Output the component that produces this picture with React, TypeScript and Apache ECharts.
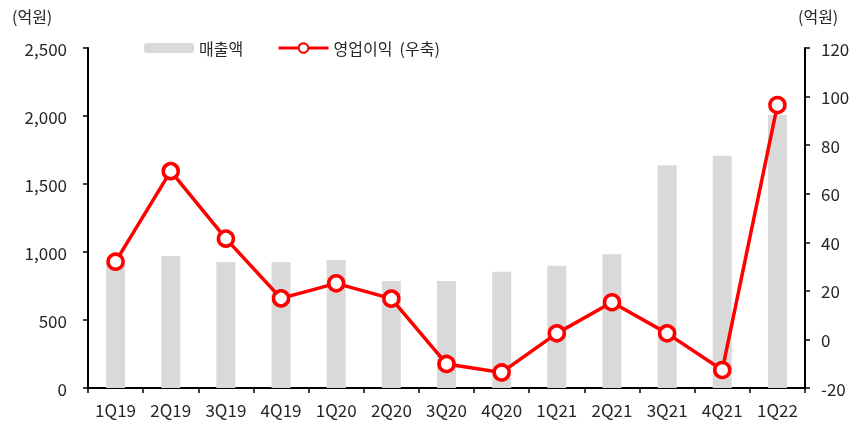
import React, { useEffect, useRef } from "react";
import * as echarts from "echarts";

const categories = ["1Q19", "2Q19", "3Q19", "4Q19", "1Q20", "2Q20", "3Q20", "4Q20", "1Q21", "2Q21", "3Q21", "4Q21", "1Q22"];
const revenue = [941, 971, 926, 926, 941, 787, 787, 855, 899, 983, 1637, 1708, 2007];
const operatingProfit = [32.0, 69.3, 41.5, 16.9, 23.1, 16.8, -10.1, -13.6, 2.5, 15.3, 2.5, -12.6, 96.5];
const revenueName = "매출액";
const profitName = "영업이익  (우축)";
const unitLabel = "(억원)";

const FONT = "'Noto Sans CJK KR', 'Noto Sans', sans-serif";
const TXT = "#262626";

export default function App() {
  const ref = useRef<HTMLDivElement>(null);
  useEffect(() => {
    if (!ref.current) return;
    const chart = echarts.init(ref.current, null, { renderer: "svg" });
    chart.setOption({
      animation: false,
      textStyle: { fontFamily: FONT },
      grid: { left: 88, right: 56, top: 48, bottom: 38, containLabel: false },
      legend: [
        {
          data: [revenueName],
          left: 144,
          top: 40,
          padding: 0,
          itemWidth: 50,
          itemHeight: 10,
          textStyle: { fontSize: 16, color: TXT, fontFamily: FONT },
        },
        {
          data: [profitName],
          left: 277,
          top: 40,
          padding: 0,
          itemWidth: 50,
          itemHeight: 12,
          lineStyle: { width: 3 },
          textStyle: { fontSize: 16, color: TXT, fontFamily: FONT },
        },
      ],
      graphic: [
        { type: "text", left: 12, top: 8, style: { text: unitLabel, fontSize: 16, fill: TXT, fontFamily: FONT } },
        { type: "text", left: 798, top: 8, style: { text: unitLabel, fontSize: 16, fill: TXT, fontFamily: FONT } },
      ],
      xAxis: {
        type: "category",
        data: categories,
        axisLine: { lineStyle: { color: "#000", width: 2 } },
        axisTick: { show: true, length: 5, lineStyle: { color: "#000", width: 1.5 } },
        axisLabel: { color: TXT, fontSize: 17, margin: 13, fontFamily: FONT },
      },
      yAxis: [
        {
          type: "value",
          min: 0,
          max: 2500,
          interval: 500,
          axisLine: { show: true, lineStyle: { color: "#000", width: 2 } },
          axisTick: { show: true, length: 5, lineStyle: { color: "#000", width: 1.5 } },
          splitLine: { show: false },
          axisLabel: {
            color: TXT,
            fontSize: 17,
            margin: 21,
            fontFamily: FONT,
            formatter: (v: number) => v.toLocaleString("en-US"),
          },
        },
        {
          type: "value",
          min: -20,
          max: 120,
          interval: 20,
          position: "right",
          axisLine: { show: true, lineStyle: { color: "#000", width: 2 } },
          axisTick: { show: true, length: 5, lineStyle: { color: "#000", width: 1.5 } },
          splitLine: { show: false },
          axisLabel: { color: TXT, fontSize: 17, margin: 16, fontFamily: FONT },
        },
      ],
      series: [
        {
          name: revenueName,
          type: "bar",
          data: revenue,
          yAxisIndex: 0,
          barWidth: 19,
          itemStyle: { color: "#d9d9d9" },
        },
        {
          name: profitName,
          type: "line",
          data: operatingProfit,
          yAxisIndex: 1,
          symbol: "circle",
          symbolSize: 15,
          lineStyle: { color: "#ff0000", width: 3.5 },
          itemStyle: { color: "#ffffff", borderColor: "#ff0000", borderWidth: 3.5 },
        },
      ],
    });
    return () => chart.dispose();
  }, []);
  return <div ref={ref} style={{ position: "fixed", left: 0, top: 0, width: 861, height: 426 }} />;
}
